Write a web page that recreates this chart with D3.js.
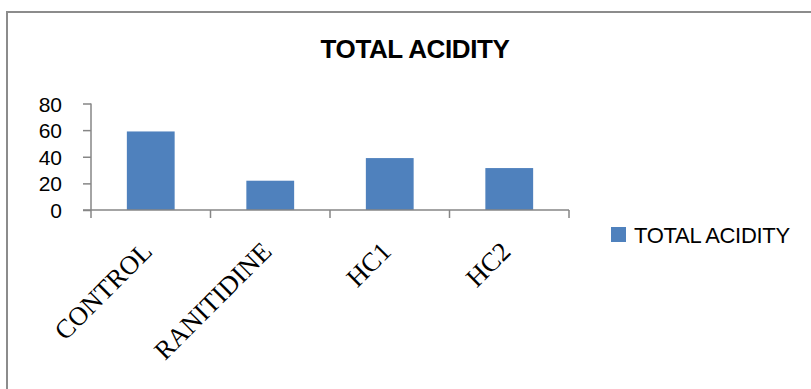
<!DOCTYPE html>
<html>
<head>
<meta charset="utf-8">
<script src="https://cdn.jsdelivr.net/npm/d3@7"></script>
<style>
  html, body { margin: 0; padding: 0; background: #fff; }
  svg { display: block; }
</style>
</head>
<body>
<svg id="chart" width="811" height="389"></svg>
<script>
// Data
const categories = ["CONTROL", "RANITIDINE", "HC1", "HC2"];
const totalAcidity = [59, 22, 39, 31.5];
const yTicks = [0, 20, 40, 60, 80];
const seriesName = "TOTAL ACIDITY";

const svg = d3.select("#chart");
const W = 811, H = 389;
const barColor = "#4f81bd";
const axisColor = "#868686";
const sans = "'Liberation Sans', Arial, sans-serif";

// Outer chart frame
svg.append("rect")
  .attr("x", 7).attr("y", 12)
  .attr("width", W + 10).attr("height", H + 10)
  .attr("fill", "none").attr("stroke", "#8c8c8c").attr("stroke-width", 2);

const plot = { left: 91, right: 569, top: 103.5, bottom: 210 };

const xBand = d3.scaleBand().domain(categories).range([plot.left, plot.right]);
const y = d3.scaleLinear().domain([0, 80]).range([plot.bottom, plot.top]);
const barW = xBand.bandwidth() * 0.4;

// Title
svg.append("text")
  .attr("x", 415).attr("y", 58)
  .attr("text-anchor", "middle")
  .attr("font-family", sans)
  .attr("font-weight", "bold")
  .attr("font-size", 26)
  .attr("letter-spacing", -0.4)
  .text(seriesName);

// Bars
svg.append("g").selectAll("rect")
  .data(totalAcidity)
  .join("rect")
  .attr("x", (d, i) => xBand(categories[i]) + (xBand.bandwidth() - barW) / 2)
  .attr("width", barW)
  .attr("y", d => y(d))
  .attr("height", d => y(0) - y(d))
  .attr("fill", barColor);

// Y axis
const yAxis = d3.axisLeft(y).tickValues(yTicks).tickSize(8).tickPadding(0);
const gy = svg.append("g").attr("transform", `translate(${plot.left},0)`).call(yAxis);
gy.select(".domain").attr("stroke", axisColor).attr("stroke-width", 1.5).attr("d", `M0,${plot.top}V${plot.bottom}`);
gy.selectAll(".tick line").attr("stroke", axisColor).attr("stroke-width", 1.5);
gy.selectAll(".tick text")
  .attr("x", -29)
  .attr("dy", "0.36em")
  .attr("fill", "#000")
  .attr("font-family", sans)
  .attr("font-size", 21);

// X axis with ticks at category boundaries
const boundaries = categories.map(c => xBand(c)).concat([plot.right]);
const gx = svg.append("g");
gx.append("line")
  .attr("x1", plot.left - 8).attr("x2", plot.right)
  .attr("y1", plot.bottom).attr("y2", plot.bottom)
  .attr("stroke", axisColor).attr("stroke-width", 1.5);
gx.selectAll("line.tk").data(boundaries).join("line")
  .attr("class", "tk")
  .attr("x1", d => d).attr("x2", d => d)
  .attr("y1", plot.bottom).attr("y2", plot.bottom + 8)
  .attr("stroke", axisColor).attr("stroke-width", 1.5);

// Rotated category labels
gx.selectAll("text").data(categories).join("text")
  .attr("transform", c => `translate(${xBand(c) + xBand.bandwidth() / 2 + 3},${plot.bottom + 43}) rotate(-45)`)
  .attr("text-anchor", "end")
  .attr("font-family", "'Liberation Serif', 'Times New Roman', serif")
  .attr("font-size", 26.5)
  .attr("fill", "#000")
  .text(c => c);

// Legend
const lg = svg.append("g").attr("transform", "translate(611,227)");
lg.append("rect").attr("width", 15).attr("height", 15).attr("fill", barColor);
lg.append("text")
  .attr("x", 23).attr("y", 16)
  .attr("font-family", sans)
  .attr("font-size", 22)
  .attr("letter-spacing", -0.3)
  .attr("fill", "#000")
  .text(seriesName);
</script>
</body>
</html>
